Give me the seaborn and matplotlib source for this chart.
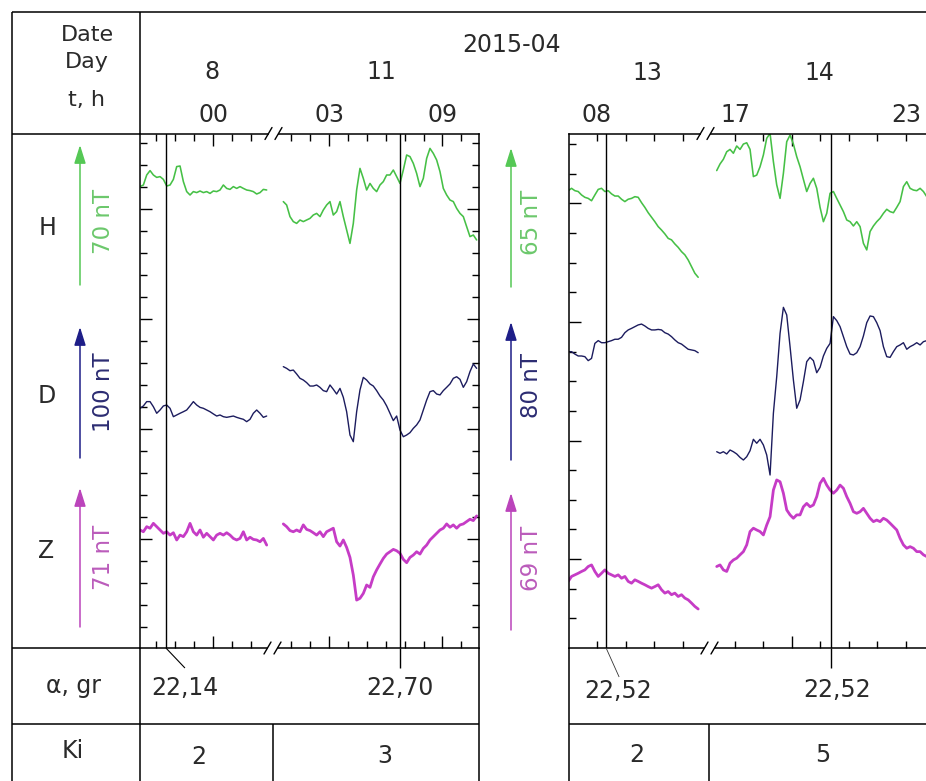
import numpy as np
import pandas as pd
import matplotlib
matplotlib.use("Agg")
import matplotlib.pyplot as plt
from matplotlib.patches import FancyArrowPatch, Rectangle
import seaborn as sns

sns.set_style("white")
plt.rcParams["font.family"] = ["DejaVu Sans"]

# ---------------------------------------------------------------- data
YEAR_MONTH = "2015-04"
DAYS_LEFT = ["8", "11"]
DAYS_RIGHT = ["13", "14"]
HOURS_LEFT = ["00", "03", "09"]
HOURS_RIGHT = ["08", "17", "23"]
COMPONENTS = ["H", "D", "Z"]
SCALE_NT_LEFT = [70, 100, 71]
SCALE_NT_RIGHT = [65, 80, 69]
ALPHA_LEFT = ["22,14", "22,70"]
ALPHA_RIGHT = ["22,52", "22,52"]
KI_LEFT = ["2", "3"]
KI_RIGHT = ["2", "5"]

# time span of each record segment, hours of that day (UT)
T_L1 = (-3.86, 2.84)    # 8 April
T_L2 = (0.58, 10.81)    # 11 April
T_R1 = (6.99, 11.55)    # 13 April
T_R2 = (16.36, 23.73)   # 14 April
ALPHA_T_L = [-2.49, 6.73]
ALPHA_T_R = [8.32, 20.37]

# variations, nT (relative to each trace's reference level)
H_L1 = [11.2, 12.0, 17.0, 19.2, 17.0, 15.8, 16.2, 14.8, 11.5, 12.0, 14.8, 21.2, 21.5,
        13.7, 8.7, 7.0, 8.7, 8.2, 9.0, 8.2, 8.7, 7.8, 9.0, 8.7, 9.5, 12.0, 10.3, 9.8,
        11.2, 10.3, 11.2, 10.3, 9.5, 9.2, 8.7, 7.5, 8.2, 9.8, 9.5]
H_L2 = [3.7, 2.0, -3.8, -6.3, -7.2, -5.5, -6.3, -5.5, -4.7, -3.0, -2.2, -3.8, -0.5, 2.0,
        3.7, -3.0, -1.3, 3.7, -3.8, -10.5, -17.2, -7.2, 9.5, 20.3, 15.3, 9.5, 12.8, 10.3,
        8.7, 12.0, 13.7, 17.0, 17.0, 19.5, 16.2, 12.8, 19.5, 27.0, 26.2, 22.8, 17.8, 11.2,
        15.3, 25.3, 30.3, 27.8, 24.5, 18.7, 10.3, 7.0, 4.5, 3.7, 0.3, -2.2, -3.8, -8.8,
        -13.8, -13.0, -15.5]
D_L1 = [15.8, 17.6, 20.9, 20.9, 17.0, 12.0, 14.5, 17.6, 18.3, 15.8, 9.4, 10.7, 12.0,
        13.2, 14.5, 17.6, 20.9, 18.3, 16.5, 15.8, 14.5, 13.2, 11.5, 9.9, 10.7, 9.4, 8.9,
        9.4, 9.9, 8.9, 8.1, 7.4, 5.6, 7.4, 12.0, 14.5, 12.0, 8.9, 9.9]
D_L2 = [47.6, 46.3, 44.5, 45.0, 42.0, 38.7, 37.4, 35.4, 32.8, 32.8, 33.6, 31.8, 29.3,
        28.5, 33.6, 30.3, 26.7, 31.0, 24.2, 13.2, -4.6, -9.7, 13.2, 29.8, 39.4, 37.4,
        34.4, 32.8, 29.3, 25.2, 22.1, 17.6, 12.0, 6.4, 9.9, -0.8, -5.9, -4.6, -2.8, 0.5,
        3.1, 6.9, 14.5, 22.1, 28.5, 29.3, 26.7, 26.0, 29.3, 31.8, 34.4, 38.7, 39.9, 37.9,
        31.8, 36.1, 43.8, 49.6, 46.3]
Z_L1 = [4.6, 3.7, 6.3, 5.5, 8.0, 6.3, 4.6, 2.9, 3.7, 2.0, 3.2, -0.5, 2.0, 1.2, 3.7, 8.0,
        3.7, 2.0, 4.6, 0.9, 2.9, 1.2, -0.5, 2.0, 2.9, 2.0, 3.2, 2.0, 0.3, -0.5, 0.3, 3.7,
        -0.5, 0.9, -0.2, -0.5, -1.4, 0.3, -3.1]
Z_L2 = [7.7, 6.3, 4.3, 3.7, 4.6, 3.7, 7.2, 4.9, 4.3, 3.2, 2.0, 3.7, 1.2, 3.7, 4.6, 5.5,
        -1.4, -3.6, -0.5, -4.3, -9.4, -18.4, -31.2, -30.3, -27.8, -23.5, -24.7, -19.3,
        -15.8, -12.8, -9.9, -7.7, -6.5, -5.3, -6.0, -7.3, -10.4, -12.1, -9.4, -8.2, -6.5,
        -7.7, -4.8, -3.1, -0.5, 1.2, 2.9, 4.6, 5.5, 7.7, 6.0, 7.2, 5.5, 7.2, 7.7, 8.9,
        10.1, 9.4, 11.8]
H_R1 = [5.9, 7.0, 5.9, 5.5, 3.9, 2.8, 2.3, 1.2, 3.9, 6.5, 7.0, 5.5, 5.9, 4.4, 3.4, 3.4,
        1.9, 0.8, 1.9, 2.3, 3.1, 2.8, 0.3, -1.9, -4.4, -6.5, -8.6, -10.9, -12.5, -14.3,
        -16.4, -17.1, -19.0, -20.6, -22.6, -24.1, -26.5, -29.6, -32.7, -34.6]
H_R2 = [15.3, 18.4, 20.6, 24.1, 25.2, 23.4, 26.8, 25.2, 27.7, 28.3, 25.2, 12.5, 13.2,
        17.1, 22.6, 30.4, 32.7, 19.5, 8.6, 2.3, 14.0, 28.8, 31.9, 27.7, 21.8, 17.1, 11.2,
        5.5, 9.3, 11.7, 7.0, -1.9, -8.6, -4.7, 4.7, 5.5, 2.3, -0.8, -3.9, -7.8, -8.6,
        -10.6, -8.6, -10.9, -18.7, -21.8, -13.2, -10.6, -8.6, -7.0, -4.7, -2.8, -3.9,
        -4.4, -1.9, 0.8, 7.8, 10.1, 7.0, 6.2, 5.9, 7.0, 5.5, 3.1]
D_R1 = [-17.2, -17.2, -18.6, -19.7, -19.7, -20.1, -22.4, -21.1, -12.4, -10.8, -12.0,
        -12.0, -11.4, -10.8, -10.0, -10.0, -8.9, -6.2, -4.6, -3.7, -2.7, -1.7, -1.2, -2.3,
        -3.7, -4.6, -4.6, -4.3, -4.6, -6.2, -7.0, -8.5, -10.4, -12.0, -12.8, -14.3, -15.8,
        -16.2, -16.6, -17.8]
D_R2 = [-75.2, -76.1, -75.2, -76.5, -74.2, -75.2, -76.5, -78.5, -80.0, -78.1, -74.6,
        -68.0, -70.3, -68.0, -71.3, -77.1, -88.7, -52.9, -31.7, -6.6, 8.5, 4.1, -14.3,
        -33.6, -50.0, -45.2, -34.6, -23.0, -20.5, -22.4, -29.4, -26.3, -19.7, -15.3,
        -12.4, 3.1, 0.8, -2.7, -8.5, -14.3, -18.6, -19.1, -17.8, -14.3, -8.1, -0.4, 3.5,
        3.1, -0.4, -5.0, -14.3, -20.1, -20.5, -17.2, -14.3, -13.3, -12.0, -15.8, -14.3,
        -13.3, -12.0, -13.3, -11.4, -10.8]
Z_R1 = [-41.0, -38.5, -37.7, -36.9, -36.0, -35.2, -33.5, -32.7, -36.0, -38.5, -36.9,
        -35.2, -36.9, -37.7, -38.5, -37.7, -39.4, -38.5, -41.0, -41.9, -40.2, -41.0,
        -41.9, -42.7, -43.6, -44.4, -43.6, -42.7, -45.2, -46.9, -46.1, -47.7, -46.9,
        -48.6, -47.7, -49.4, -50.3, -51.9, -53.6, -54.9]
Z_R2 = [-33.5, -32.7, -35.2, -36.0, -31.8, -30.2, -29.3, -27.6, -26.0, -22.6, -15.9,
        -14.2, -15.1, -15.9, -17.6, -12.6, -8.4, 5.0, 10.1, 9.2, 3.4, -5.0, -7.5, -9.2,
        -7.5, -7.5, -3.4, -1.7, -3.4, -2.5, 1.7, 8.4, 10.9, 7.5, 5.0, 3.4, 5.0, 7.5, 5.9,
        1.7, -1.7, -5.9, -6.7, -5.9, -4.2, -6.7, -9.2, -10.9, -10.1, -10.9, -9.2, -10.1,
        -11.7, -13.4, -15.1, -19.3, -22.6, -24.3, -23.5, -24.3, -26.0, -26.0, -27.6,
        -28.5]

# ---------------------------------------------------------------- style / layout
W, HT = 926, 781
TXT = "#2a2a2a"
COL = {"H": "#46c046", "D": "#1c1c5e", "Z": "#c63cc6"}
ARROW_COL = {"H": "#55c855", "D": "#1e1e88", "Z": "#bb44bb"}
LABEL_COL = {"H": "#6cc86c", "D": "#2c2c72", "Z": "#bb5cbb"}
LW = {"H": 1.15, "D": 1.0, "Z": 2.0}
FS = 17

fig = plt.figure(figsize=(W / 100, HT / 100), dpi=100)


def frac(x0, y0, x1, y1):
    return [x0 / W, 1 - y1 / HT, (x1 - x0) / W, (y1 - y0) / HT]


TOP, BOT = 133.5, 648.0
PANELS = {
    "L": dict(box=(139.5, 479.3), xlim=(-3.889, 14.09), shift=(0.0, 3.14),
              spans=(T_L1, T_L2),
              series={"H": (H_L1, H_L2), "D": (D_L1, D_L2), "Z": (Z_L1, Z_L2)},
              base={"H": 439.0, "D": 219.0, "Z": 109.0},
              arrows={"H": (285, 145), "D": (458, 327), "Z": (627, 488)},
              arrow_x=80, label_x=104, label_y={"H": 221, "D": 392, "Z": 557},
              scale=SCALE_NT_LEFT,
              yt=[505 - 22 * k for k in range(23)], ytmaj=[439, 329, 219, 109],
              xt=([-3, -2, -1, 0, 1, 2], [1, 2, 3, 4, 5, 6, 7, 8, 9, 10]),
              xtmaj=([0], [3, 9]),
              alpha_t=ALPHA_T_L, alpha_seg=(0, 1)),
    "R": dict(box=(568.5, 945.0), xlim=(7.0, 20.21), shift=(0.0, -4.16),
              spans=(T_R1, T_R2),
              series={"H": (H_R1, H_R2), "D": (D_R1, D_R2), "Z": (Z_R1, Z_R2)},
              base={"H": 444.7, "D": 326.0, "Z": 148.0},
              arrows={"H": (287, 148), "D": (460, 322), "Z": (630, 493)},
              arrow_x=511, label_x=532, label_y={"H": 222, "D": 385, "Z": 558},
              scale=SCALE_NT_RIGHT,
              yt=[504 - 29.65 * k for k in range(17)],
              ytmaj=[504 - 29.65 * k for k in (2, 6, 10, 14)],
              xt=([8, 9, 10, 11], [17, 18, 19, 20, 21, 22, 23]),
              xtmaj=([], [19]),
              alpha_t=ALPHA_T_R, alpha_seg=(0, 1)),
}

axes = {}
for key, P in PANELS.items():
    x0, x1 = P["box"]
    ax = fig.add_axes(frac(x0, TOP, x1, BOT))
    ax.set_facecolor("none")
    axes[key] = ax

bg = fig.add_axes([0, 0, 1, 1])
bg.set_xlim(0, W)
bg.set_ylim(HT, 0)
bg.set_axis_off()


def px_of(P, axis_x):
    x0, x1 = P["box"]
    a0, a1 = P["xlim"]
    return x0 + (axis_x - a0) / (a1 - a0) * (x1 - x0)


# ---------------------------------------------------------------- traces
for key, P in PANELS.items():
    ax = axes[key]
    for ci, comp in enumerate(COMPONENTS):
        tail, tip = P["arrows"][comp]
        k = (tail - tip) / P["scale"][ci]          # px per nT from the scale arrow
        for seg in (0, 1):
            vals = np.asarray(P["series"][comp][seg], dtype=float)
            t0, t1 = P["spans"][seg]
            t = np.linspace(t0, t1, len(vals))
            df = pd.DataFrame({"t": t + P["shift"][seg],
                               "v": P["base"][comp] + k * vals})
            sns.lineplot(data=df, x="t", y="v", ax=ax, color=COL[comp], lw=LW[comp],
                         estimator=None, sort=False, legend=False)
    ax.set_xlim(*P["xlim"])
    ax.set_ylim(0, BOT - TOP)
    ax.set_xlabel("")
    ax.set_ylabel("")
    xt_min, xt_maj = [], []
    for seg in (0, 1):
        for h in P["xt"][seg]:
            (xt_maj if h in P["xtmaj"][seg] else xt_min).append(h + P["shift"][seg])
    ax.set_xticks(xt_maj)
    ax.set_xticks(xt_min, minor=True)
    ax.set_yticks(P["ytmaj"])
    ax.set_yticks([y for y in P["yt"] if min(abs(y - m) for m in P["ytmaj"]) > 1],
                  minor=True)
    ax.tick_params(which="both", direction="in", top=True, bottom=True, left=True,
                   right=True, labelleft=False, labelbottom=False, width=1.0,
                   color="black")
    ax.tick_params(which="major", length=8.5)
    ax.tick_params(which="minor", length=5.0)
    for s in ax.spines.values():
        s.set_color("black")
        s.set_linewidth(1.1)
    # alpha (time) markers
    for at, seg in zip(P["alpha_t"], P["alpha_seg"]):
        ax.axvline(at + P["shift"][seg], color="black", lw=1.0)

# ---------------------------------------------------------------- table lines
def L(x0, y0, x1, y1, lw=1.1, color="black"):
    bg.plot([x0, x1], [y0, y1], color=color, lw=lw, solid_capstyle="butt")


xL0, xL1 = PANELS["L"]["box"]
xR0 = PANELS["R"]["box"][0]
L(12, 12, W, 12)
L(12, 12, 12, HT)
L(xL0, 12, xL0, TOP)
L(xL0, BOT, xL0, HT)
L(12, TOP, xL0, TOP)
L(12, BOT, xL0, BOT)
L(12, 724, xL1, 724)
L(xR0, 724, W, 724)
L(xL1, BOT, xL1, HT)
L(xR0, BOT, xR0, HT)
L(273, 724, 273, HT)
L(709, 724, 709, HT)

# axis breaks  //
for cx, cy in [(274, TOP), (273, BOT), (706, TOP), (710, BOT)]:
    bg.add_patch(Rectangle((cx - 5, cy - 2.5), 9, 5, facecolor="white",
                           edgecolor="none", zorder=5))
    bg.plot([cx - 9, cx - 2], [cy + 6, cy - 6], color="black", lw=1.0, zorder=6)
    bg.plot([cx + 1, cx + 8], [cy + 6, cy - 6], color="black", lw=1.0, zorder=6)

# alpha marker leaders below the plots
aL = [px_of(PANELS["L"], t + PANELS["L"]["shift"][s])
      for t, s in zip(ALPHA_T_L, PANELS["L"]["alpha_seg"])]
aR = [px_of(PANELS["R"], t + PANELS["R"]["shift"][s])
      for t, s in zip(ALPHA_T_R, PANELS["R"]["alpha_seg"])]
L(aL[0], BOT, aL[0] + 19, 668, lw=0.8)
L(aL[1], BOT, aL[1], 668, lw=1.0)
L(aR[0], BOT, aR[0] + 13, 677, lw=0.6, color="#333333")
L(aR[1], BOT, aR[1], 668, lw=1.0)

# ---------------------------------------------------------------- texts
def T(x, y, s, size=FS, **kw):
    kw.setdefault("ha", "center")
    kw.setdefault("va", "baseline")
    kw.setdefault("color", TXT)
    bg.text(x, y, s, fontsize=size, **kw)


T(87, 41, "Date", size=16)
T(87, 68, "Day", size=16)
T(87, 106, "t, h", size=16)
T(512, 52, YEAR_MONTH)
T(212, 79, DAYS_LEFT[0])
T(381, 79, DAYS_LEFT[1])
T(647, 80, DAYS_RIGHT[0])
T(819, 80, DAYS_RIGHT[1])
for P, labels, ticks in [(PANELS["L"], HOURS_LEFT, [(0, 0), (3, 1), (9, 1)]),
                         (PANELS["R"], HOURS_RIGHT, [(8, 0), (17, 1), (23, 1)])]:
    for lab, (h, seg) in zip(labels, ticks):
        T(px_of(P, h + P["shift"][seg]), 122, lab)

for comp, (x, y) in zip(COMPONENTS, [(48, 235), (47, 403), (46, 558)]):
    T(x, y, comp)

for key, P in PANELS.items():
    for ci, comp in enumerate(COMPONENTS):
        tail, tip = P["arrows"][comp]
        ar = FancyArrowPatch((P["arrow_x"], tail), (P["arrow_x"], tip),
                             arrowstyle="-|>,head_length=0.7,head_width=0.22",
                             mutation_scale=16, color=ARROW_COL[comp], lw=1.1,
                             shrinkA=0, shrinkB=0)
        bg.add_patch(ar)
        bg.text(P["label_x"], P["label_y"][comp], f"{P['scale'][ci]} nT",
                rotation=90, ha="center", va="center", fontsize=16.5,
                color=LABEL_COL[comp])

T(73, 693, "α, gr")
T(185, 695, ALPHA_LEFT[0])
T(400, 695, ALPHA_LEFT[1])
T(618, 698, ALPHA_RIGHT[0])
T(837, 697, ALPHA_RIGHT[1])

T(73, 758, "Ki")
T(199, 764, KI_LEFT[0])
T(385, 763, KI_LEFT[1])
T(637, 762, KI_RIGHT[0])
T(823, 762, KI_RIGHT[1])

fig.savefig("out.png", dpi=100)
